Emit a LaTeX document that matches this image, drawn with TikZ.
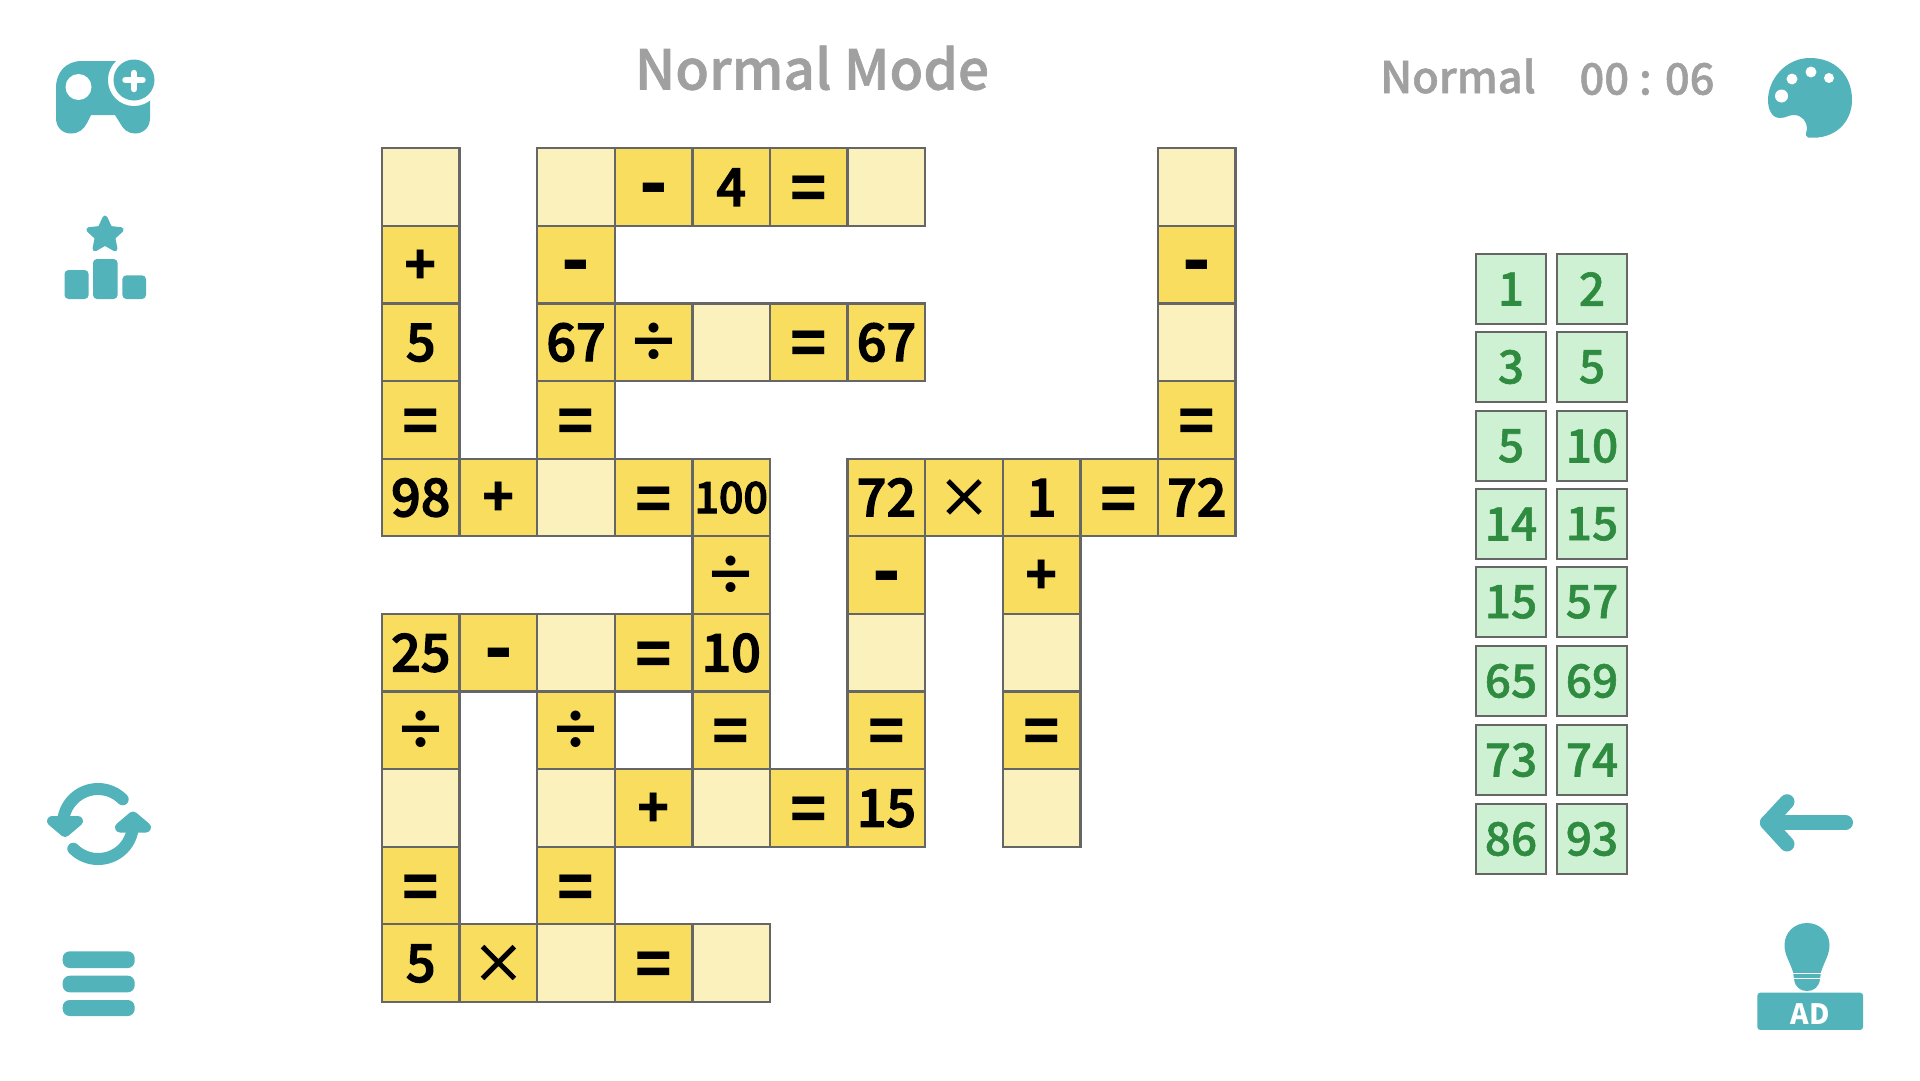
\documentclass[tikz,border=0pt]{standalone}
\usepackage{fontspec}
\setmainfont{Noto Sans CJK JP}
\newfontfamily\heavyfont{Noto Sans CJK JP Medium}[FakeBold=1.2]
\newfontfamily\cellfont{Noto Sans CJK JP Medium}[FakeBold=2.6]
\usetikzlibrary{shapes.geometric}
\definecolor{cellyellow}{HTML}{F9DD5E}
\definecolor{openyellow}{HTML}{FBF1BC}
\definecolor{edgegray}{HTML}{666666}
\definecolor{tilegreen}{HTML}{CEF0D3}
\definecolor{numgreen}{HTML}{2E8B40}
\definecolor{iconteal}{HTML}{52B3BB}
\definecolor{headgray}{HTML}{A0A0A0}
\tikzset{
	cell/.style={draw=edgegray,line width=2.3pt,fill=cellyellow,minimum size=77.6pt,inner sep=0pt,text height=37.5pt,text depth=0pt,font=\fontsize{52}{52}\cellfont},
	opencell/.style={cell,fill=openyellow},
	sign/.style={cell,text height=38.9pt,font=\fontsize{53}{53}\selectfont\bfseries},
	eqsign/.style={cell,text height=47pt,font=\fontsize{60}{60}\selectfont\bfseries},
	timessign/.style={cell,text height=38.9pt,font=\fontsize{53}{53}\heavyfont},
	minus/.style={cell,text height=44.5pt,font=\fontsize{75}{75}\selectfont\bfseries},
	tile/.style={draw=edgegray,line width=2.3pt,fill=tilegreen,minimum size=70pt,inner sep=0pt,text=numgreen,font=\fontsize{46}{46}\heavyfont},
	head/.style={text=headgray,inner sep=0pt,font=\fontsize{#1}{#1}\heavyfont},
}
\begin{document}
\begin{tikzpicture}[x=1pt,y=-1pt]
	\useasboundingbox (0,0) rectangle (1920,1080);
	\node[head=55] (title) at (812,68) {Normal Mode};
	\node[head=43.5] (level) at (1458,76) {Normal};
	\node[head=43.5] (clock) at (1647,79) {00 : 06};

	\begin{scope}[shift={(420.8,187.1)},x=77.6pt,y=-77.6pt]
	\node[opencell] (v1) at (0,0) {};
	\node[sign] (v2) at (0,1) {+};
	\node[cell] (v3) at (0,2) {5};
	\node[eqsign] (v4) at (0,3) {=};
	\node[cell] (v5) at (0,4) {98};
	\node[sign] (v6) at (1,4) {+};
	\node[opencell] (v7) at (2,4) {};
	\node[eqsign] (v8) at (3,4) {=};
	\node[cell,text height=31pt,font=\fontsize{43}{43}\cellfont] (v9) at (4,4) {100};

	\node[opencell] (v10) at (2,0) {};
	\node[minus] (v11) at (3,0) {-};
	\node[cell] (v12) at (4,0) {4};
	\node[eqsign] (v13) at (5,0) {=};
	\node[opencell] (v14) at (6,0) {};
	\node[minus] (v15) at (2,1) {-};
	\node[cell] (v16) at (2,2) {67};
	\node[sign] (v17) at (3,2) {÷};
	\node[opencell] (v18) at (4,2) {};
	\node[eqsign] (v19) at (5,2) {=};
	\node[cell] (v20) at (6,2) {67};
	\node[eqsign] (v21) at (2,3) {=};

	\node[opencell] (v22) at (10,0) {};
	\node[minus] (v23) at (10,1) {-};
	\node[opencell] (v24) at (10,2) {};
	\node[eqsign] (v25) at (10,3) {=};
	\node[cell] (v26) at (6,4) {72};
	\node[timessign] (v27) at (7,4) {×};
	\node[cell] (v28) at (8,4) {1};
	\node[eqsign] (v29) at (9,4) {=};
	\node[cell] (v30) at (10,4) {72};

	\node[sign] (v31) at (4,5) {÷};
	\node[minus] (v32) at (6,5) {-};
	\node[sign] (v33) at (8,5) {+};
	\node[cell] (v34) at (0,6) {25};
	\node[minus] (v35) at (1,6) {-};
	\node[opencell] (v36) at (2,6) {};
	\node[eqsign] (v37) at (3,6) {=};
	\node[cell] (v38) at (4,6) {10};
	\node[opencell] (v39) at (6,6) {};
	\node[opencell] (v40) at (8,6) {};

	\node[sign] (v41) at (0,7) {÷};
	\node[sign] (v42) at (2,7) {÷};
	\node[eqsign] (v43) at (4,7) {=};
	\node[eqsign] (v44) at (6,7) {=};
	\node[eqsign] (v45) at (8,7) {=};
	\node[opencell] (v46) at (0,8) {};
	\node[opencell] (v47) at (2,8) {};
	\node[sign] (v48) at (3,8) {+};
	\node[opencell] (v49) at (4,8) {};
	\node[eqsign] (v50) at (5,8) {=};
	\node[cell] (v51) at (6,8) {15};
	\node[opencell] (v52) at (8,8) {};

	\node[eqsign] (v53) at (0,9) {=};
	\node[eqsign] (v54) at (2,9) {=};
	\node[cell] (v55) at (0,10) {5};
	\node[timessign] (v56) at (1,10) {×};
	\node[opencell] (v57) at (2,10) {};
	\node[eqsign] (v58) at (3,10) {=};
	\node[opencell] (v59) at (4,10) {};
	\end{scope}

	\node[tile] (t1) at (1511,289) {1};
	\node[tile] (t2) at (1592,289) {2};
	\node[tile] (t3) at (1511,367) {3};
	\node[tile] (t4) at (1592,367) {5};
	\node[tile] (t5) at (1511,446) {5};
	\node[tile] (t6) at (1592,446) {10};
	\node[tile] (t7) at (1511,524) {14};
	\node[tile] (t8) at (1592,524) {15};
	\node[tile] (t9) at (1511,602) {15};
	\node[tile] (t10) at (1592,602) {57};
	\node[tile] (t11) at (1511,681) {65};
	\node[tile] (t12) at (1592,681) {69};
	\node[tile] (t13) at (1511,760) {73};
	\node[tile] (t14) at (1592,760) {74};
	\node[tile] (t15) at (1511,839) {86};
	\node[tile] (t16) at (1592,839) {93};

	% gamepad
	\fill[iconteal] (56,88) .. controls (56,72) and (66,61) .. (82,61) -- (150,61) -- (150,118) .. controls (150,128) and (143,133.5) .. (135,133.5) .. controls (128,133.5) and (123,129) .. (120,123) -- (115,115) -- (91,115) -- (87,123) .. controls (84,129) and (79,133.5) .. (71,133.5) .. controls (62,133.5) and (56,127) .. (56,118) -- cycle;
	\fill[white] (134,80) circle (26);
	\fill[iconteal] (134,80) circle (20.5);
	\fill[white] (78.5,87) circle (13);
	\draw[white,line width=6.5pt,line cap=round] (125.5,80) -- (142.5,80) (134,73) -- (134,89);

	% podium
	\node[star,star points=5,star point ratio=2.1,fill=iconteal,draw=iconteal,line width=5pt,line join=round,inner sep=0pt,minimum size=34pt] (topstar) at (105,235) {};
	\fill[iconteal,rounded corners=4pt] (64.5,270) rectangle (88.6,299);
	\fill[iconteal,rounded corners=4pt] (93,259) rectangle (117.6,299);
	\fill[iconteal,rounded corners=4pt] (122.4,275.3) rectangle (146,299);

	% reload
	\draw[iconteal,line width=12pt,line cap=round] (122.7,799.3) .. controls (116.1,792.7) and (107.3,789) .. (98,789) .. controls (78.7,789) and (63,804.7) .. (63,824);
	\draw[iconteal,line width=12pt,line cap=round] (133,824) .. controls (133,843.3) and (117.7,859) .. (98,859) .. controls (88.7,859) and (79.9,855.3) .. (73.3,848.7);
	\fill[iconteal,draw=iconteal,line width=10pt,line join=round] (65,832) -- (52,821) -- (78,821) -- cycle;
	\fill[iconteal,draw=iconteal,line width=10pt,line join=round] (133,816.5) -- (120,827.5) -- (146,827.5) -- cycle;

	% menu
	\fill[iconteal,rounded corners=7pt] (62.7,951.3) rectangle (134.7,968);
	\fill[iconteal,rounded corners=7pt] (62.7,975.7) rectangle (134.7,992.3);
	\fill[iconteal,rounded corners=7pt] (62.7,1000) rectangle (134.7,1016);

	% palette
	\fill[iconteal] (1808,137.5) .. controls (1835,140) and (1852,122) .. (1852,100) .. controls (1852,75) and (1835,58) .. (1810,58) .. controls (1785,58) and (1768,80) .. (1768,100) .. controls (1768,110) and (1772,118) .. (1780,118) .. controls (1786,118) and (1788,115) .. (1794,115) .. controls (1802,115) and (1807,122) .. (1807,128) .. controls (1807,132) and (1804,135) .. (1808,137.5) -- cycle;
	\fill[white] (1781.5,96) circle (6.5);
	\fill[white] (1792,79) circle (5.5);
	\fill[white] (1811,72) circle (5.5);
	\fill[white] (1829,78) circle (5);

	% back arrow
	\draw[iconteal,line width=15pt,line cap=round,line join=round] (1845.5,822.7) -- (1767.5,822.7);
	\draw[iconteal,line width=15pt,line cap=round,line join=round] (1787,801.7) -- (1767.5,822.7) -- (1787,844);

	% hint
	\fill[iconteal] (1807,923) .. controls (1820,923) and (1829.5,933) .. (1829.5,945) .. controls (1829.5,955) and (1824,962) .. (1821,972) -- (1820,979) .. controls (1819,987) and (1814,991) .. (1807,991) .. controls (1800,991) and (1795,987) .. (1794,979) -- (1793,972) .. controls (1790,962) and (1784.5,955) .. (1784.5,945) .. controls (1784.5,933) and (1794,923) .. (1807,923) -- cycle;
	\draw[white,line width=1.5pt] (1790,973.5) -- (1824,973.5) (1790,978.5) -- (1824,978.5);
	\node[fill=iconteal,rounded corners=3pt,minimum width=105.7pt,minimum height=37.3pt,inner sep=0pt,text height=26pt,text depth=0pt,text=white,font=\fontsize{28}{28}\selectfont\bfseries] (adbox) at (1810.2,1011.3) {AD};
\end{tikzpicture}
\end{document}
